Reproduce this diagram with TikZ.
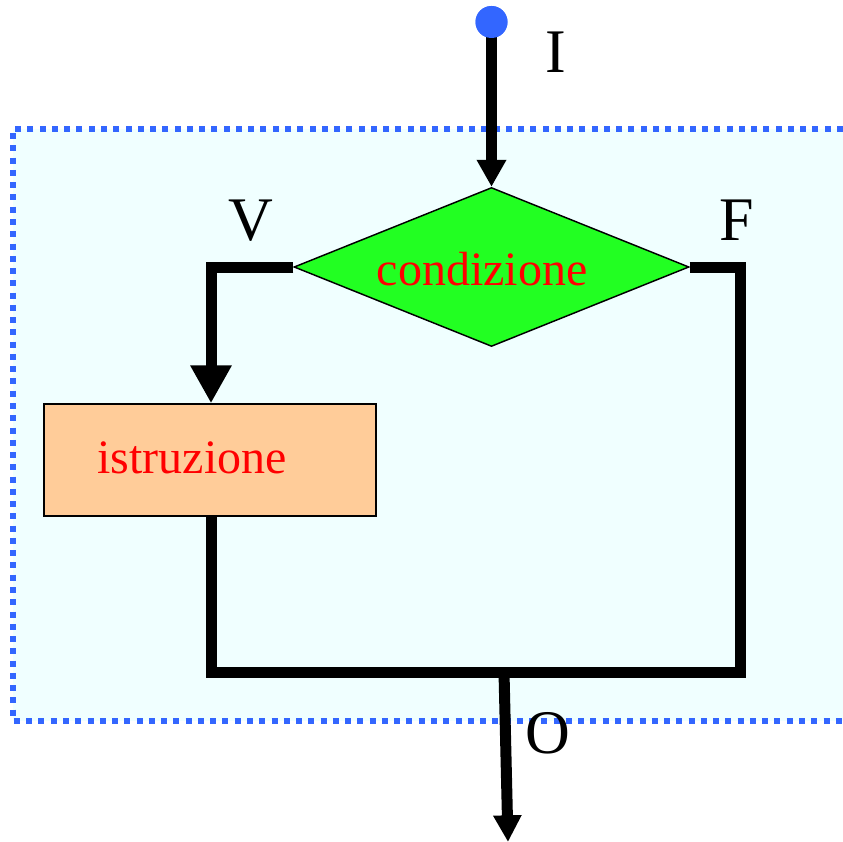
\documentclass[tikz,border=0pt]{standalone}
\usepackage{fontspec}
\setmainfont{Liberation Serif}
\usetikzlibrary{shapes.geometric,arrows.meta}
\definecolor{bgcyan}{HTML}{F0FFFF}
\definecolor{dotblue}{HTML}{3366FF}
\definecolor{diagreen}{HTML}{22FF22}
\definecolor{boxorange}{HTML}{FFCC99}
\tikzset{
  flow/.style={line width=8.25pt, draw=black, miter limit=10},
  biglabel/.style={font=\fontsize{46.5}{50}\selectfont, anchor=base, inner sep=0pt},
  boxtext/.style={font=\fontsize{36}{40}\selectfont, text=red, anchor=base, inner sep=0pt},
  thinborder/.style={draw=black, line width=1.1pt}
}
\begin{document}
\begin{tikzpicture}[x=0.75pt,y=-0.75pt]
\useasboundingbox (0,0) rectangle (843,842);
% background region
\fill[bgcyan] (13,129) rectangle (843,721);
\draw[dotblue, line width=4.5pt, dash pattern=on 4.5pt off 4.7pt]
  (843,129) -- (13,129) -- (13,721) -- (843,721);
% nodes
\node[circle, fill=dotblue, minimum size=24pt, inner sep=0pt] (start) at (491.5,22) {};
\node[diamond, fill=diagreen, thinborder, minimum width=296.25pt, minimum height=119.25pt, inner sep=0pt] (cond) at (491.5,267) {};
\node[boxtext] (ctext) at (482,285) {condizione};
\node[rectangle, fill=boxorange, thinborder, minimum width=249pt, minimum height=84pt, inner sep=0pt] (instr) at (210,460) {};
\node[boxtext] (itext) at (192,473) {istruzione};
\coordinate (vc) at (211,267);
\coordinate (fc) at (740.5,267);
\coordinate (br) at (740.5,672);
\coordinate (bl) at (211,672);
\coordinate (bm) at (504,672);
\coordinate (out) at (508,842);
% labels
\node[biglabel] (lI) at (556,73) {I};
\node[biglabel] (lV) at (251,240) {V};
\node[biglabel] (lF) at (737,240) {F};
\node[biglabel] (lO) at (548,753) {O};
% connectors
\draw[flow, -{Triangle[width=21pt,length=20.25pt]}] (start.center) -- (cond.north);
\draw[flow, -{Triangle[width=29.25pt,length=28.5pt]}] (cond.west) -- (vc) -- (instr.north -| vc);
\draw[flow] (cond.east) -- (fc) -- (br) -- (bl) -- (instr.south -| bl);
\draw[flow, -{Triangle[width=20pt,length=20pt]}] (bm) -- (out);
% redraw dot on top
\node[circle, fill=dotblue, minimum size=24pt, inner sep=0pt] at (start) {};
\end{tikzpicture}
\end{document}
